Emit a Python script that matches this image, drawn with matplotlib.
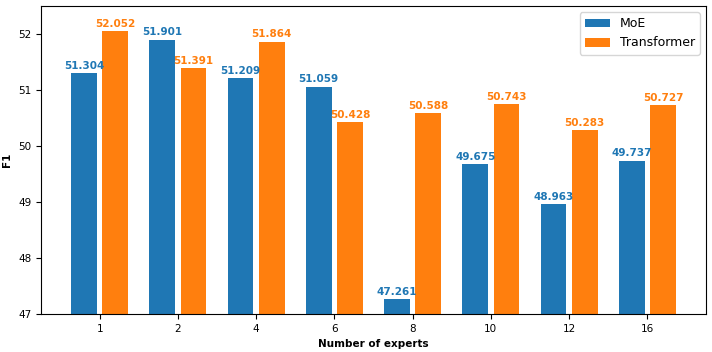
import matplotlib
matplotlib.use("Agg")
import matplotlib.pyplot as plt
import numpy as np

categories = ["1", "2", "4", "6", "8", "10", "12", "16"]
moe = [51.304, 51.901, 51.209, 51.059, 47.261, 49.675, 48.963, 49.737]
transformer = [52.052, 51.391, 51.864, 50.428, 50.588, 50.743, 50.283, 50.727]

fig = plt.figure(figsize=(7.12, 3.52), dpi=100)
ax = fig.add_axes([41/712, 1 - 314/352, (706-41)/712, (314-6)/352])

x = np.arange(len(categories))
w = 0.33
b1 = ax.bar(x - 0.2, moe, w, color="#1f77b4", label="MoE")
b2 = ax.bar(x + 0.2, transformer, w, color="#ff7f0e", label="Transformer")

for r, v in zip(b1, moe):
    ax.text(r.get_x() + r.get_width()/2, v + 0.04, f"{v:.3f}", ha="center", va="bottom",
            fontsize=7.5, fontweight="bold", color="#1f77b4")
for r, v in zip(b2, transformer):
    ax.text(r.get_x() + r.get_width()/2, v + 0.04, f"{v:.3f}", ha="center", va="bottom",
            fontsize=7.5, fontweight="bold", color="#ff7f0e")

ax.set_ylim(47, 52.5)
ax.set_xlim(-0.75, 7.75)
ax.set_xticks(x)
ax.set_xticklabels(categories)
ax.tick_params(labelsize=7.5)
ax.set_xlabel("Number of experts", fontsize=7.5, fontweight="bold")
ax.set_ylabel("F1", fontsize=7.5, fontweight="bold")
ax.legend(loc="upper right", fontsize=9)

fig.savefig("out.png", dpi=100)
